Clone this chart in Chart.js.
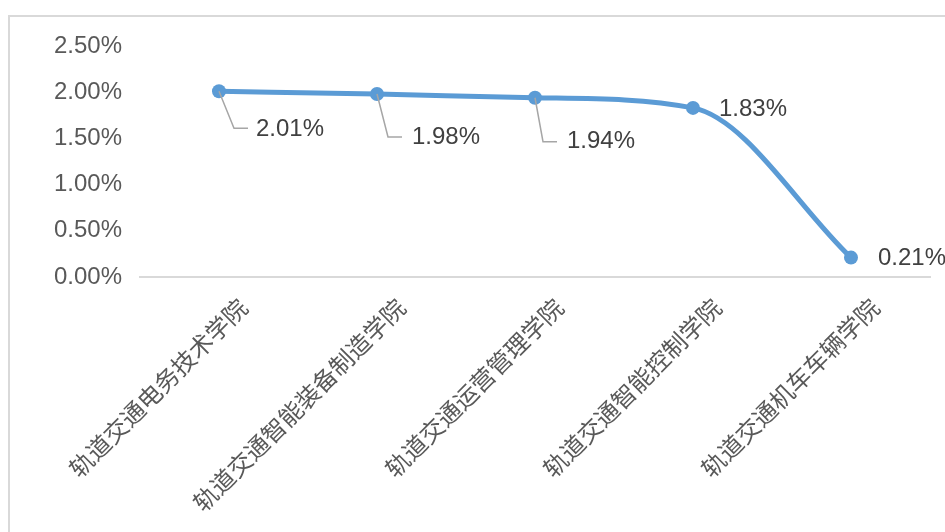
<!DOCTYPE html>
<html>
<head>
<meta charset="utf-8">
<script src="https://cdn.jsdelivr.net/npm/chart.js@4.4.1/dist/chart.umd.min.js"></script>
<style>
  html, body { margin: 0; padding: 0; background: #ffffff; }
  #wrap { position: relative; width: 945px; height: 532px; overflow: hidden; }
  #frame { position: absolute; left: 8px; top: 15px; width: 1000px; height: 600px;
           border-top: 2px solid #d9d9d9; border-left: 2px solid #d9d9d9; box-sizing: border-box; }
  canvas { position: absolute; left: 0; top: 0; }
</style>
</head>
<body>
<div id="wrap">
  <div id="frame"></div>
  <canvas id="c" width="945" height="532"></canvas>
</div>
<script>
// ---- data ----
const categories = ['轨道交通电务技术学院', '轨道交通智能装备制造学院', '轨道交通运营管理学院', '轨道交通智能控制学院', '轨道交通机车车辆学院'];
const rates = [2.01, 1.98, 1.94, 1.83, 0.21];   // percent
const yTicks = [0, 0.5, 1.0, 1.5, 2.0, 2.5];     // percent

// ---- label placement (style, not data) ----
const labelPlacement = [
  { leader: true, lx: 15, ly: 37, hx: 29, tx: 37, ty: 38 },
  { leader: true, lx: 11, ly: 43, hx: 25, tx: 35, ty: 43 },
  { leader: true, lx: 8,  ly: 44, hx: 22, tx: 32, ty: 44 },
  { leader: false, tx: 26, ty: 1 },
  { leader: false, tx: 27, ty: 1 }
];

const dataLabelPlugin = {
  id: 'dataLabels',
  afterDatasetsDraw(chart) {
    const ctx = chart.ctx;
    const meta = chart.getDatasetMeta(0);
    ctx.save();
    meta.data.forEach((pt, i) => {
      const p = labelPlacement[i];
      const x = pt.x, y = pt.y;
      if (p.leader) {
        ctx.beginPath();
        ctx.strokeStyle = '#a6a6a6';
        ctx.lineWidth = 1.5;
        ctx.moveTo(x, y);
        ctx.lineTo(x + p.lx, y + p.ly);
        ctx.lineTo(x + p.hx, y + p.ly);
        ctx.stroke();
      }
      ctx.fillStyle = '#404040';
      ctx.font = '24px "Liberation Sans", Arial, sans-serif';
      ctx.textAlign = 'left';
      ctx.textBaseline = 'middle';
      ctx.fillText(rates[i].toFixed(2) + '%', x + p.tx, y + p.ty);
    });
    ctx.restore();
  }
};

new Chart(document.getElementById('c'), {
  type: 'line',
  data: {
    labels: categories,
    datasets: [{
      data: rates,
      borderColor: '#5B9BD5',
      backgroundColor: '#5B9BD5',
      borderWidth: 5,
      pointRadius: 7,
      pointHoverRadius: 7,
      pointBackgroundColor: '#5B9BD5',
      pointBorderColor: '#5B9BD5',
      pointBorderWidth: 0,
      cubicInterpolationMode: 'monotone',
      fill: false,
      clip: false
    }]
  },
  options: {
    responsive: false,
    animation: false,
    events: [],
    layout: { padding: { left: 0, top: 46, right: 15, bottom: 0 } },
    plugins: { legend: { display: false }, tooltip: { enabled: false } },
    scales: {
      x: {
        offset: true,
        grid: { display: false, drawTicks: false },
        border: { display: true, color: '#d9d9d9', width: 2 },
        ticks: {
          autoSkip: false,
          minRotation: 45,
          maxRotation: 45,
          padding: 16,
          labelOffset: 24,
          color: '#595959',
          font: { family: '"Noto Sans CJK SC", sans-serif', size: 24 }
        },
        afterFit(scale) { scale.height = 255; }
      },
      y: {
        min: 0,
        max: 2.5,
        afterBuildTicks(scale) { scale.ticks = yTicks.map(v => ({ value: v })); },
        grid: { display: false, drawTicks: false },
        border: { display: false },
        ticks: {
          padding: 18,
          color: '#595959',
          font: { family: '"Liberation Sans", Arial, sans-serif', size: 24 },
          callback: v => Number(v).toFixed(2) + '%'
        },
        afterFit(scale) { scale.width = 140; }
      }
    }
  },
  plugins: [dataLabelPlugin]
});
</script>
</body>
</html>
